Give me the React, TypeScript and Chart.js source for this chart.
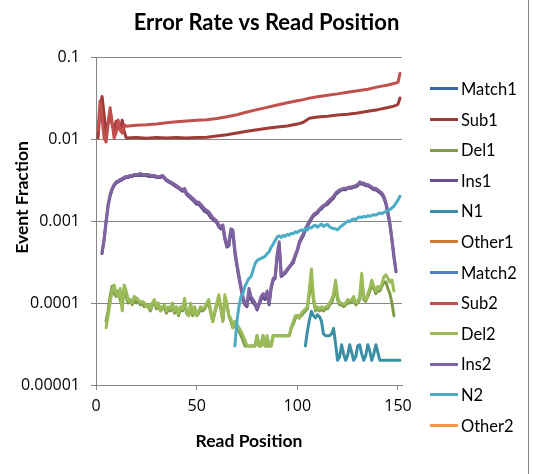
import { useEffect, useRef } from 'react';
import Chart from 'chart.js/auto';

const seriesNames = ['Match1', 'Sub1', 'Del1', 'Ins1', 'N1', 'Other1', 'Match2', 'Sub2', 'Del2', 'Ins2', 'N2', 'Other2'];
const seriesColors = ['#3A6598', '#9E3B38', '#7E9B48', '#65508A', '#3A8FA5', '#D07A32', '#4F81BD', '#C0504D', '#9BBB59', '#8064A2', '#4BACC6', '#F79646'];

const yTicks = [0.00001, 0.0001, 0.001, 0.01, 0.1];
const yTickLabels = ['0.00001', '0.0001', '0.001', '0.01', '0.1'];
const xTicks = [0, 50, 100, 150];

// substitution series are read at a few positions (smooth after the first 15 bases)
const subPos = [1, 2, 3, 4, 5, 6, 7, 8, 9, 10, 11, 12, 13, 14, 15, 20, 25, 30, 35, 40, 45, 50, 55, 60, 65, 70, 75, 80, 85, 90, 95, 100, 103, 106, 110, 115, 120, 125, 130, 135, 140, 145, 148, 150, 151];
const sub1 = [
  0.0103, 0.022, 0.033, 0.02, 0.0113, 0.016, 0.0218, 0.015, 0.0124, 0.0165, 0.0145, 0.0128, 0.017, 0.0125, 0.0103,
  0.0104, 0.0102, 0.0104, 0.0103, 0.0104, 0.0103, 0.0104, 0.0105,
  0.0109, 0.0113, 0.0118, 0.0124, 0.013, 0.0135, 0.014, 0.0144, 0.0152,
  0.016, 0.0179, 0.0186, 0.019, 0.0196, 0.0201, 0.0208, 0.0218, 0.0228, 0.0242, 0.0252, 0.0265, 0.0316,
];
const sub2 = [
  0.0124, 0.029, 0.018, 0.0103, 0.0092, 0.015, 0.024, 0.016, 0.0103, 0.012, 0.017, 0.013, 0.0118, 0.0149, 0.0143,
  0.0147, 0.0149, 0.0152, 0.0158, 0.0162, 0.0166, 0.0169, 0.0172,
  0.0178, 0.0187, 0.0198, 0.0213, 0.0228, 0.0243, 0.026, 0.0277, 0.0292,
  0.0302, 0.0315, 0.0327, 0.0342, 0.0355, 0.0372, 0.0388, 0.0405, 0.0432, 0.0455, 0.0475, 0.049, 0.063,
];

// dense series: one value per read position, starting at *Start
const delStart = 5;
const del1 = [
  0.00006, 0.00008, 0.00012, 0.00016, 0.00013, 0.00012, 0.00014, 0.00011, 0.00009, 0.00015,
  0.00012, 0.0001, 0.00011, 0.000095, 0.00011, 0.0001, 0.000105, 0.000095, 0.0001, 0.00009,
  0.000095, 0.00009, 0.00008, 0.000095, 0.0001, 0.000085, 0.000095, 0.00008, 0.000085, 0.00009,
  0.000075, 0.000085, 0.00008, 0.000095, 0.000075, 0.000085, 0.00007, 0.000085, 0.00008, 0.0001,
  0.000075, 0.00007, 0.00009, 0.00007, 0.000085, 0.00007, 0.000075, 0.000085, 0.00008, 0.000085,
  0.000095, 0.0001, 0.000075, 0.00006, 0.000075, 0.000095, 0.00011, 0.000085, 0.00006, 0.00011,
  0.000095, 0.00007, 0.00006, 0.00005, 0.000055, 0.00005, 0.000045, 0.00004, 0.000035, 0.00003,
  0.00003, 0.00003, 0.00003, 0.00003, 0.00003, 0.00004, 0.00003, 0.00003, 0.00004, 0.00003,
  0.00003, 0.00003, 0.00003, 0.00004, 0.00004, 0.00004, 0.00004, 0.00004, 0.00004, 0.00004,
  0.00004, 0.00004, 0.00005, 0.000055, 0.000065, 0.00007, 0.00007, 0.00007, 0.000075, 0.00008,
  0.000085, 0.00013, 0.0002, 0.00011, 0.00008, 0.000085, 0.00008, 0.000085, 0.00008, 0.000085,
  0.000085, 0.000095, 0.0001, 0.00012, 0.00016, 0.00011, 0.000095, 0.000095, 0.00009, 0.000095,
  0.0001, 0.0001, 0.000105, 0.00011, 0.000095, 0.0001, 0.00011, 0.00019, 0.00011, 0.000105,
  0.00012, 0.00014, 0.00016, 0.00015, 0.00013, 0.00014, 0.00014, 0.00016, 0.00018, 0.00018,
  0.00015, 0.00013, 0.0001, 0.00007,
];
const del2 = [
  0.00005, 0.00007, 0.0001, 0.00014, 0.000166, 0.00013, 0.00012, 0.00015, 0.00008, 0.000166,
  0.00014, 0.00011, 0.000105, 0.0001, 0.00012, 0.000115, 0.00011, 0.0001, 0.000105, 0.0001,
  0.00009, 0.000095, 0.000085, 0.0001, 0.00011, 0.00009, 0.0001, 0.00008, 0.00009, 0.000095,
  0.00008, 0.00009, 0.000085, 0.0001, 0.00008, 0.00009, 0.000074, 0.00009, 0.000085, 0.000114,
  0.00008, 0.00007, 0.0001, 0.000075, 0.00009, 0.00007, 0.00008, 0.00009, 0.000085, 0.00009,
  0.0001, 0.00011, 0.00008, 0.000059, 0.00008, 0.0001, 0.000126, 0.00009, 0.00006, 0.000126,
  0.0001, 0.00007, 0.000065, 0.00005, 0.00006, 0.000055, 0.00005, 0.000045, 0.00004, 0.000035,
  0.00003, 0.00003, 0.00003, 0.00003, 0.00003, 0.00004, 0.00003, 0.00003, 0.00004, 0.00003,
  0.00004, 0.00003, 0.00003, 0.00004, 0.00004, 0.00004, 0.00004, 0.00004, 0.00004, 0.00004,
  0.00004, 0.00004, 0.00005, 0.00006, 0.00007, 0.00007, 0.000065, 0.000075, 0.00008, 0.000085,
  0.00009, 0.00015, 0.00026, 0.00012, 0.000085, 0.00009, 0.000085, 0.00009, 0.000085, 0.00009,
  0.00009, 0.0001, 0.00011, 0.00013, 0.00019, 0.00012, 0.0001, 0.0001, 0.000095, 0.0001,
  0.00011, 0.000105, 0.00011, 0.00012, 0.0001, 0.000105, 0.00012, 0.00023, 0.000115, 0.00011,
  0.00013, 0.00015, 0.00019, 0.00016, 0.00014, 0.00016, 0.00015, 0.00017, 0.00021, 0.00022,
  0.0002, 0.00018, 0.00019, 0.00014,
];

const insStart = 3;
const ins1 = [
  0.0004, 0.00058, 0.00095, 0.0015, 0.002, 0.0024, 0.0027, 0.0029, 0.003, 0.0031,
  0.0032, 0.0033, 0.0034, 0.0034, 0.0035, 0.0035, 0.0036, 0.0036, 0.0036, 0.0036,
  0.0036, 0.0036, 0.0036, 0.0035, 0.0035, 0.0035, 0.0035, 0.0034, 0.0034, 0.0034,
  0.0035, 0.0033, 0.0031, 0.003, 0.0029, 0.0028, 0.0027, 0.0026, 0.0025, 0.0024,
  0.0023, 0.0024, 0.0021, 0.002, 0.0019, 0.0018, 0.0017, 0.0016, 0.0016, 0.0015,
  0.0014, 0.0013, 0.00128, 0.0012, 0.0011, 0.00105, 0.001, 0.00095, 0.00085, 0.0008,
  0.00085, 0.0006, 0.00048, 0.0005, 0.00075, 0.0007, 0.0004, 0.00028, 0.0002, 0.00015,
  0.00011, 0.000095, 0.00009, 0.00014, 0.00011, 0.0001, 0.000095, 0.000082, 0.000095, 0.00011,
  0.00012, 0.00011, 0.00013, 0.000095, 0.00015, 0.00019, 0.0002, 0.00037, 0.0005, 0.00021,
  0.00022, 0.00023, 0.00025, 0.00027, 0.00029, 0.00031, 0.00037, 0.00043, 0.00053, 0.0006,
  0.00066, 0.00077, 0.00086, 0.00095, 0.00105, 0.00115, 0.0012, 0.00125, 0.00135, 0.0014,
  0.0015, 0.00155, 0.0016, 0.0017, 0.0018, 0.0019, 0.0021, 0.0022, 0.0023, 0.0024,
  0.0024, 0.0024, 0.0025, 0.0025, 0.0025, 0.0026, 0.0026, 0.0027, 0.0029, 0.0028,
  0.0028, 0.0027, 0.0027, 0.0026, 0.0025, 0.0024, 0.0024, 0.0023, 0.0022, 0.0021,
  0.0019, 0.0016, 0.0012, 0.0009, 0.00058, 0.00036, 0.00024,
];
const ins2 = [
  0.00042, 0.0006, 0.001, 0.0016, 0.0021, 0.0025, 0.0028, 0.003, 0.0031, 0.0032,
  0.0033, 0.0034, 0.0035, 0.0035, 0.0036, 0.0036, 0.0037, 0.0037, 0.0037, 0.0038,
  0.0037, 0.0037, 0.0037, 0.0037, 0.0036, 0.0036, 0.0036, 0.0035, 0.0035, 0.0035,
  0.0036, 0.0034, 0.0032, 0.0031, 0.003, 0.0029, 0.0028, 0.0027, 0.0026, 0.0025,
  0.0024, 0.0025, 0.0022, 0.0021, 0.002, 0.0019, 0.0018, 0.0017, 0.0017, 0.0016,
  0.0015, 0.0014, 0.00135, 0.0013, 0.0012, 0.0011, 0.00105, 0.001, 0.0009, 0.00085,
  0.0009, 0.00065, 0.0005, 0.00055, 0.0008, 0.00078, 0.00045, 0.0003, 0.00022, 0.00016,
  0.00012, 0.0001, 0.000095, 0.00015, 0.00012, 0.00011, 0.0001, 0.000087, 0.0001, 0.00012,
  0.00013, 0.00012, 0.00014, 0.0001, 0.00016, 0.0002, 0.00021, 0.0004, 0.00056, 0.00022,
  0.00023, 0.00024, 0.00026, 0.00028, 0.0003, 0.00033, 0.00039, 0.00045, 0.00056, 0.00063,
  0.0007, 0.00081, 0.0009, 0.001, 0.0011, 0.0012, 0.00125, 0.0013, 0.0014, 0.00148,
  0.00155, 0.0016, 0.0017, 0.0018, 0.0019, 0.002, 0.0022, 0.0023, 0.0024, 0.00245,
  0.0025, 0.0025, 0.00255, 0.0026, 0.0026, 0.00265, 0.0027, 0.0028, 0.003, 0.0029,
  0.0029, 0.0028, 0.00278, 0.0027, 0.0026, 0.0025, 0.0025, 0.0024, 0.0023, 0.0022,
  0.002, 0.0017, 0.0013, 0.00095, 0.0006, 0.00038, 0.00025,
];

const n1Start = 104;
const n1 = [
  0.00003, 0.000045, 0.000062, 0.000079, 0.00007, 0.000066, 0.000072, 0.000068, 0.00006, 0.000042,
  0.00004, 0.00004, 0.00004, 0.000042, 0.000049, 0.000032, 0.00002, 0.000022, 0.000031, 0.000024,
  0.00002, 0.000023, 0.000031, 0.000025, 0.00002, 0.000022, 0.00003, 0.000031, 0.000024, 0.00002,
  0.000023, 0.000031, 0.000026, 0.00002, 0.000024, 0.000031, 0.000025, 0.00002, 0.00002, 0.00002,
  0.00002, 0.00002, 0.00002, 0.00002, 0.00002, 0.00002, 0.00002, 0.00002,
];
const n2Start = 69;
const n2 = [
  0.00003, 0.00006, 0.00009, 0.00012, 0.00013, 0.00016, 0.00018, 0.0002, 0.00021, 0.00025,
  0.0003, 0.00033, 0.00034, 0.00035, 0.00036, 0.00037, 0.0004, 0.00042, 0.00048, 0.00052,
  0.00058, 0.00064, 0.00066, 0.00063, 0.00067, 0.00065, 0.00069, 0.00067, 0.00071, 0.0007,
  0.00074, 0.00072, 0.00076, 0.00078, 0.00076, 0.00081, 0.00078, 0.00084, 0.00082, 0.00087,
  0.00089, 0.00084, 0.00088, 0.00092, 0.00086, 0.00089, 0.00091, 0.00085, 0.00082, 0.00081,
  0.0008, 0.00078, 0.00083, 0.00087, 0.00091, 0.00095, 0.001, 0.00098, 0.00103, 0.00106,
  0.00104, 0.00109, 0.00112, 0.0011, 0.00114, 0.00112, 0.00116, 0.00114, 0.00117, 0.00119,
  0.00118, 0.00122, 0.00125, 0.00123, 0.00127, 0.0013, 0.00133, 0.00138, 0.00144, 0.00152,
  0.00165, 0.0018, 0.002,
];

const FONT = 'Lato';
const TICK_FONT = 'Open Sans';

function fromPositions(pos: number[], vals: number[]) {
  return vals.map((y, i) => ({ x: pos[i], y }));
}

function fromStart(start: number, vals: number[]) {
  return vals.map((y, i) => ({ x: start + i, y }));
}

const yTitlePlugin = {
  id: 'yTitle',
  afterDraw(chart: Chart) {
    const { ctx, chartArea } = chart;
    ctx.save();
    ctx.translate(22, chartArea.top + (chartArea.bottom - chartArea.top) * 0.428);
    ctx.rotate(-Math.PI / 2);
    ctx.font = `bold 17.5px ${FONT}`;
    ctx.fillStyle = '#000';
    ctx.textAlign = 'center';
    ctx.textBaseline = 'middle';
    ctx.fillText('Event Fraction', 0, 0);
    ctx.restore();
  },
};

export default function App() {
  const canvasRef = useRef<HTMLCanvasElement>(null);
  const chartRef = useRef<Chart | null>(null);

  useEffect(() => {
    if (!canvasRef.current) return;
    if (chartRef.current) chartRef.current.destroy();

    const seriesData = [
      [],
      fromPositions(subPos, sub1),
      fromStart(delStart, del1),
      fromStart(insStart, ins1),
      fromStart(n1Start, n1),
      [],
      [],
      fromPositions(subPos, sub2),
      fromStart(delStart, del2),
      fromStart(insStart, ins2),
      fromStart(n2Start, n2),
      [],
    ];

    chartRef.current = new Chart(canvasRef.current, {
      type: 'line',
      data: {
        datasets: seriesNames.map((name, i) => ({
          label: name,
          data: seriesData[i],
          borderColor: seriesColors[i],
          backgroundColor: seriesColors[i],
          borderWidth: 3,
          pointRadius: 0,
          borderJoinStyle: 'round' as const,
          borderCapStyle: 'round' as const,
          tension: 0,
          order: seriesNames.length - i, // later series on top, like the source
        })),
      },
      options: {
        animation: false,
        responsive: false,
        maintainAspectRatio: false,
        layout: { padding: 0 },
        plugins: {
          legend: { display: false },
          tooltip: { enabled: false },
          title: {
            display: true,
            text: 'Error Rate vs Read Position',
            color: '#000',
            font: { family: FONT, size: 22, weight: 'bold' },
            padding: { top: 10, bottom: 20.6 },
          },
        },
        scales: {
          x: {
            type: 'linear',
            min: 0,
            max: 152,
            afterBuildTicks: (axis) => {
              axis.ticks = xTicks.map((v) => ({ value: v }));
            },
            afterFit: (scale) => {
              scale.height = 89;
            },
            ticks: {
              color: '#000',
              font: { family: TICK_FONT, size: 16 },
              padding: 7,
              maxRotation: 0,
            },
            grid: { drawOnChartArea: false, drawTicks: true, tickLength: 5, color: '#868686' },
            border: { color: '#868686' },
            title: {
              display: true,
              text: 'Read Position',
              color: '#000',
              font: { family: FONT, size: 17.5, weight: 'bold' },
              padding: { top: 0, bottom: 22 },
            },
          },
          y: {
            type: 'logarithmic',
            min: 0.00001,
            max: 0.1,
            afterBuildTicks: (axis) => {
              axis.ticks = yTicks.map((v) => ({ value: v }));
            },
            afterFit: (scale) => {
              scale.width = 96;
            },
            ticks: {
              color: '#000',
              font: { family: TICK_FONT, size: 16 },
              padding: 11,
              callback: (value) => yTickLabels[yTicks.indexOf(Number(value))] ?? '',
            },
            grid: { color: '#868686', tickLength: 5 },
            border: { color: '#868686' },
          },
          legendSpace: {
            type: 'linear',
            position: 'right',
            display: true,
            grid: { display: false },
            ticks: { display: false },
            border: { display: false },
            afterFit: (scale) => {
              scale.width = 131;
            },
          },
        },
      },
      plugins: [yTitlePlugin],
    });

    return () => {
      if (chartRef.current) {
        chartRef.current.destroy();
        chartRef.current = null;
      }
    };
  }, []);

  return (
    <div style={{ position: 'fixed', left: 0, top: 0, width: 533, height: 474, background: '#fff' }}>
      <canvas ref={canvasRef} width={533} height={474} style={{ display: 'block' }}></canvas>
      <div style={{ position: 'absolute', left: 430, top: 73.7 }}>
        {seriesNames.map((name, i) => (
          <div key={name} style={{ height: 30.6, display: 'flex', alignItems: 'center' }}>
            <span style={{ width: 28, height: 3, background: seriesColors[i], marginRight: 3 }}></span>
            <span style={{ fontFamily: FONT, fontSize: 16.5, color: '#000' }}>{name}</span>
          </div>
        ))}
      </div>
      <div style={{ position: 'absolute', left: 528, top: 0, width: 1, height: 474, background: '#868686' }}></div>
    </div>
  );
}
